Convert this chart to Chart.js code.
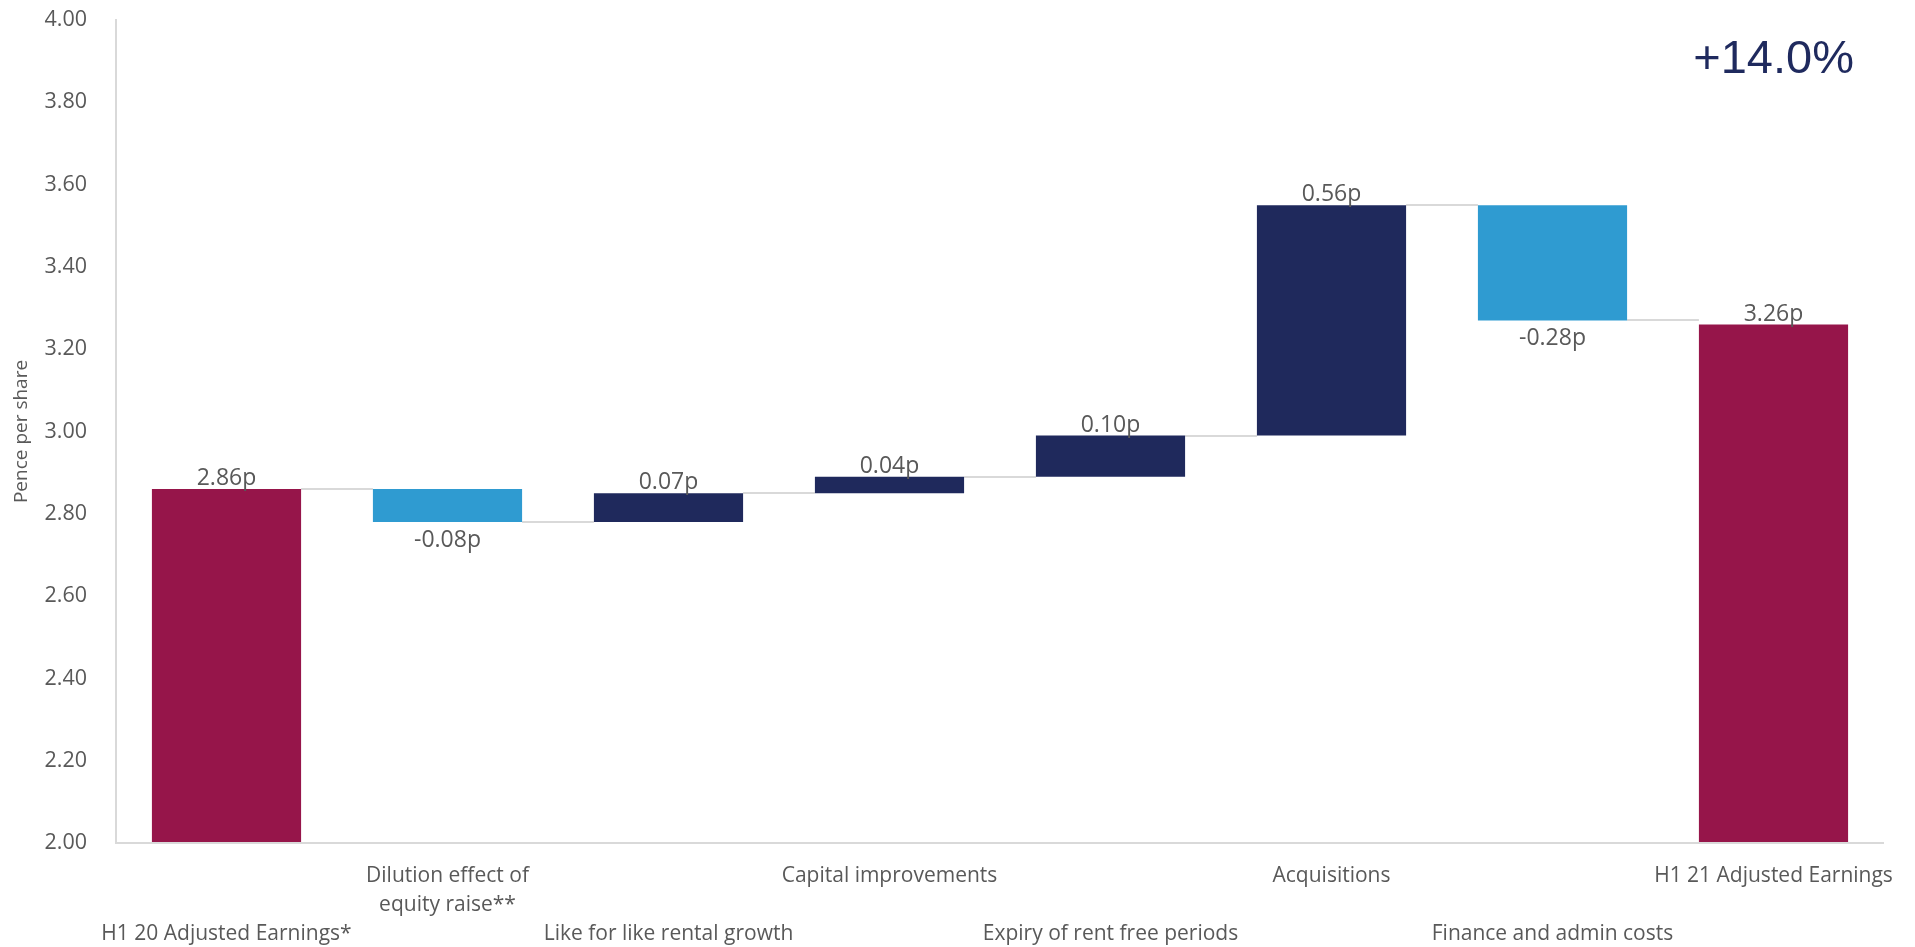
<!DOCTYPE html>
<html>
<head>
<meta charset="utf-8">
<title>Adjusted earnings bridge</title>
<script src="https://cdn.jsdelivr.net/npm/chart.js@4/dist/chart.umd.min.js"></script>
<style>
  html, body { margin: 0; padding: 0; background: #ffffff; }
  #wrap { position: relative; width: 1915px; height: 947px; }
</style>
</head>
<body>
<div id="wrap"><canvas id="chart"></canvas></div>
<script>
// Bridge from H1 20 to H1 21 adjusted earnings (pence per share)
const categories = [
  'H1 20 Adjusted Earnings*',
  'Dilution effect of equity raise**',
  'Like for like rental growth',
  'Capital improvements',
  'Expiry of rent free periods',
  'Acquisitions',
  'Finance and admin costs',
  'H1 21 Adjusted Earnings'
];
const amounts = [2.86, -0.08, 0.07, 0.04, 0.10, 0.56, -0.28, 3.26];
const kinds = ['total', 'change', 'change', 'change', 'change', 'change', 'change', 'total'];
const yTicks = [2.0, 2.2, 2.4, 2.6, 2.8, 3.0, 3.2, 3.4, 3.6, 3.8, 4.0];
const headline = '+14.0%';

const AXIS_MIN = yTicks[0];
const AXIS_MAX = yTicks[yTicks.length - 1];
const COLOR_TOTAL = '#96154A';
const COLOR_UP = '#1F295C';
const COLOR_DOWN = '#2F9BD1';
const TEXT_GREY = '#595959';
const LINE_GREY = '#D9D9D9';

// Floating ranges for each bar, built from the running total
const ranges = [];
const levels = [];
let running = 0;
amounts.forEach((v, i) => {
  if (kinds[i] === 'total') {
    running = v;
    ranges.push([AXIS_MIN, v]);
  } else {
    const start = running;
    running = +(running + v).toFixed(4);
    ranges.push([Math.min(start, running), Math.max(start, running)]);
  }
  levels.push(running);
});
const colors = amounts.map((v, i) => kinds[i] === 'total' ? COLOR_TOTAL : (v >= 0 ? COLOR_UP : COLOR_DOWN));

// Staggered category labels: odd categories sit on the first row, even ones on the third
const tickLabels = categories.map((c, i) => {
  if (i % 2 === 1) {
    return c === 'Dilution effect of equity raise**' ? ['Dilution effect of', 'equity raise**'] : [c];
  }
  return ['', '', c];
});

const fmt = v => (v < 0 ? '-' : '') + Math.abs(v).toFixed(2) + 'p';

const bridgePlugin = {
  id: 'bridge',
  beforeDatasetsDraw(chart) {
    const { ctx, scales: { x, y } } = chart;
    const meta = chart.getDatasetMeta(0);
    ctx.save();
    ctx.strokeStyle = LINE_GREY;
    ctx.lineWidth = 2;
    for (let i = 0; i < meta.data.length - 1; i++) {
      const a = meta.data[i], b = meta.data[i + 1];
      const yy = Math.round(y.getPixelForValue(levels[i]));
      ctx.beginPath();
      ctx.moveTo(a.x + a.width / 2, yy);
      ctx.lineTo(b.x - b.width / 2, yy);
      ctx.stroke();
    }
    ctx.restore();
  },
  afterDatasetsDraw(chart) {
    const { ctx, chartArea, scales: { y } } = chart;
    const meta = chart.getDatasetMeta(0);
    ctx.save();
    // x axis line drawn over the bar bases
    ctx.strokeStyle = LINE_GREY;
    ctx.lineWidth = 2;
    const base = Math.round(y.getPixelForValue(AXIS_MIN));
    ctx.beginPath();
    ctx.moveTo(chartArea.left, base);
    ctx.lineTo(chartArea.right, base);
    ctx.stroke();

    // value labels
    ctx.fillStyle = TEXT_GREY;
    ctx.font = '23px "Open Sans"';
    ctx.textAlign = 'center';
    meta.data.forEach((bar, i) => {
      const v = amounts[i];
      const r = ranges[i];
      if (v >= 0) {
        ctx.textBaseline = 'alphabetic';
        ctx.fillText(fmt(v), bar.x, y.getPixelForValue(r[1]) - 4);
      } else {
        ctx.textBaseline = 'top';
        ctx.fillText(fmt(v), bar.x, y.getPixelForValue(r[0]) + 7);
      }
    });

    // headline growth figure
    ctx.fillStyle = '#1F2A5E';
    ctx.font = '47px "Liberation Sans", Arial, sans-serif';
    ctx.textAlign = 'right';
    ctx.textBaseline = 'middle';
    ctx.fillText(headline, chartArea.right - 30, 60);
    ctx.restore();
  }
};

new Chart(document.getElementById('chart'), {
  type: 'bar',
  data: {
    labels: tickLabels,
    datasets: [{
      data: ranges,
      backgroundColor: colors,
      borderSkipped: false,
      borderWidth: 0,
      categoryPercentage: 1,
      barPercentage: 0.675
    }]
  },
  options: {
    responsive: true,
    maintainAspectRatio: false,
    animation: false,
    events: [],
    layout: { padding: { left: 8, right: 31, top: 20, bottom: 0 } },
    plugins: {
      legend: { display: false },
      tooltip: { enabled: false }
    },
    scales: {
      x: {
        grid: { display: false, drawTicks: false },
        border: { display: false },
        ticks: {
          color: TEXT_GREY,
          font: { family: '"Open Sans"', size: 21, lineHeight: 29 / 21 },
          autoSkip: false,
          maxRotation: 0,
          minRotation: 0,
          padding: 19
        },
        afterFit(axis) {
          axis.height = 104;
          axis.paddingLeft = 0;
          axis.paddingRight = 0;
        }
      },
      y: {
        min: AXIS_MIN,
        max: AXIS_MAX,
        afterBuildTicks(axis) { axis.ticks = yTicks.map(v => ({ value: v })); },
        grid: { display: false, drawTicks: false },
        border: { display: true, color: LINE_GREY, width: 2 },
        ticks: {
          color: TEXT_GREY,
          font: { family: '"Open Sans"', size: 21.5 },
          padding: 29,
          callback: v => Number(v).toFixed(2)
        },
        title: {
          display: true,
          text: 'Pence per share',
          color: TEXT_GREY,
          font: { family: '"Open Sans"', size: 19 },
          padding: { top: 2, bottom: 12 }
        },
        afterFit(axis) {
          axis.width = 108;
          axis.paddingTop = 0;
          axis.paddingBottom = 0;
        }
      }
    }
  },
  plugins: [bridgePlugin]
});
</script>
</body>
</html>
